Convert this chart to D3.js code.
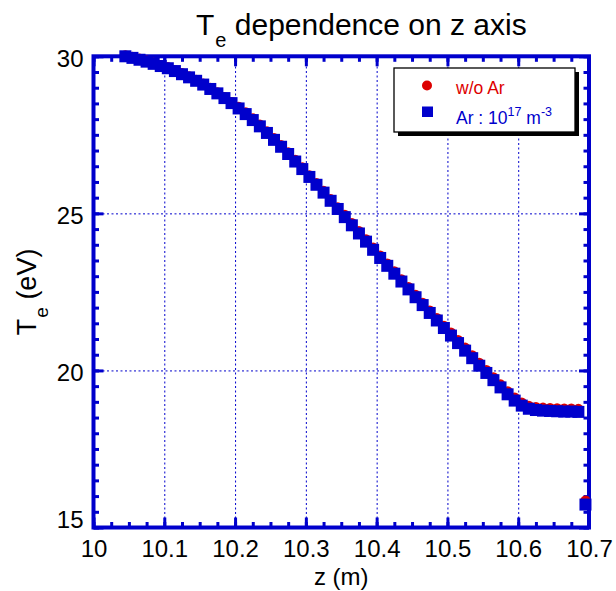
<!DOCTYPE html>
<html>
<head>
<meta charset="utf-8">
<script src="https://cdn.jsdelivr.net/npm/d3@7"></script>
<style>
  body { margin: 0; background: #fff; }
  svg { display: block; }
  text { font-family: "Liberation Sans", Arial, Helvetica, sans-serif; }
</style>
</head>
<body>
<svg id="chart" width="616" height="591"></svg>
<script>
// Axial positions of the samples (m)
const zPositions = [
  10.045, 10.055, 10.065, 10.075, 10.085, 10.095, 10.105, 10.115, 10.125, 10.135,
  10.145, 10.155, 10.165, 10.175, 10.185, 10.195, 10.205, 10.215, 10.225, 10.235,
  10.245, 10.255, 10.265, 10.275, 10.285, 10.295, 10.305, 10.315, 10.325, 10.335,
  10.345, 10.355, 10.365, 10.375, 10.385, 10.395, 10.405, 10.415, 10.425, 10.435,
  10.445, 10.455, 10.465, 10.475, 10.485, 10.495, 10.505, 10.515, 10.525, 10.535,
  10.545, 10.555, 10.565, 10.575, 10.585, 10.595, 10.605, 10.615, 10.625, 10.635,
  10.645, 10.655, 10.665, 10.675, 10.685, 10.695
];

// Electron temperature without argon (eV)
const teNoArgon = [
  30.03, 29.98, 29.92, 29.86, 29.79, 29.72, 29.65, 29.56, 29.46, 29.36,
  29.25, 29.13, 28.99, 28.85, 28.70, 28.54, 28.39, 28.21, 28.02, 27.82,
  27.61, 27.39, 27.17, 26.94, 26.70, 26.46, 26.21, 25.96, 25.71, 25.45,
  25.19, 24.95, 24.69, 24.43, 24.17, 23.91, 23.65, 23.40, 23.15, 22.90,
  22.65, 22.40, 22.15, 21.90, 21.66, 21.42, 21.20, 20.96, 20.72, 20.48,
  20.24, 20.01, 19.78, 19.55, 19.33, 19.13, 18.97, 18.87, 18.83, 18.81,
  18.80, 18.79, 18.78, 18.78, 18.77, 15.85
];

// Electron temperature with argon density 1e17 m^-3 (eV)
const teArgon = [
  30.00, 29.95, 29.89, 29.83, 29.76, 29.69, 29.62, 29.53, 29.43, 29.33,
  29.22, 29.10, 28.96, 28.82, 28.67, 28.51, 28.34, 28.16, 27.97, 27.77,
  27.56, 27.34, 27.12, 26.89, 26.65, 26.41, 26.16, 25.91, 25.66, 25.40,
  25.14, 24.88, 24.62, 24.36, 24.10, 23.84, 23.58, 23.33, 23.08, 22.83,
  22.58, 22.33, 22.08, 21.83, 21.59, 21.35, 21.11, 20.87, 20.63, 20.39,
  20.15, 19.92, 19.69, 19.46, 19.24, 19.04, 18.88, 18.78, 18.74, 18.72,
  18.71, 18.70, 18.69, 18.69, 18.68, 15.73
];

const xTicks = [10, 10.1, 10.2, 10.3, 10.4, 10.5, 10.6, 10.7];
const xTickLabels = ["10", "10.1", "10.2", "10.3", "10.4", "10.5", "10.6", "10.7"];
const yTicks = [15, 20, 25, 30];
const yTickLabels = ["15", "20", "25", "30"];

const BLUE = "#0000cc";
const RED = "#dd0000";

const svg = d3.select("#chart");
const pLeft = 93.5, pRight = 589, pTop = 56.3, pBottom = 527.5;

const x = d3.scaleLinear().domain([10, 10.7]).range([pLeft, pRight]);
const y = d3.scaleLinear().domain([15, 30]).range([pBottom, pTop]);

const xMinor = d3.range(0, 29).map(i => 10 + i * 0.025);
const yMinor = d3.range(0, 31).map(i => 15 + i * 0.5);

// dotted grid at the inner major ticks
const grid = svg.append("g").attr("class", "grid");
grid.append("g")
  .attr("transform", `translate(0,${pBottom})`)
  .call(d3.axisBottom(x).tickValues(xTicks.slice(1, -1)).tickSize(-(pBottom - pTop)).tickFormat(""))
  .call(g => g.select(".domain").remove());
grid.append("g")
  .attr("transform", `translate(${pLeft},0)`)
  .call(d3.axisLeft(y).tickValues(yTicks.slice(1, -1)).tickSize(-(pRight - pLeft)).tickFormat(""))
  .call(g => g.select(".domain").remove());
grid.selectAll("line")
  .attr("stroke", BLUE).attr("stroke-width", 1).attr("stroke-dasharray", "2,2.5");

// inward ticks on all four sides
function tickAxis(axisFn, scale, values, size, transform, fmt, pad) {
  const g = svg.append("g").attr("transform", transform)
    .call(axisFn(scale).tickValues(values).tickSize(-size).tickSizeOuter(0)
      .tickPadding(pad || 3).tickFormat(fmt || ""));
  g.select(".domain").remove();
  g.selectAll("line").attr("stroke", BLUE).attr("stroke-width", 3);
  return g;
}
tickAxis(d3.axisBottom, x, xMinor, 5.5, `translate(0,${pBottom})`);
tickAxis(d3.axisTop, x, xMinor, 5.5, `translate(0,${pTop})`);
tickAxis(d3.axisLeft, y, yMinor, 5.5, `translate(${pLeft},0)`);
tickAxis(d3.axisRight, y, yMinor, 5.5, `translate(${pRight},0)`);
tickAxis(d3.axisTop, x, xTicks, 10, `translate(0,${pTop})`);
tickAxis(d3.axisRight, y, yTicks, 10, `translate(${pRight},0)`);

const xAxis = tickAxis(d3.axisBottom, x, xTicks, 10, `translate(0,${pBottom})`,
  (d, i) => xTickLabels[i], 12);
xAxis.selectAll("text").attr("fill", "#000").attr("font-size", 24)
  .attr("font-family", "Liberation Sans, Arial, sans-serif");

const yAxis = tickAxis(d3.axisLeft, y, yTicks, 10, `translate(${pLeft},0)`,
  (d, i) => yTickLabels[i], 10);
yAxis.selectAll("text").attr("fill", "#000").attr("font-size", 24)
  .attr("font-family", "Liberation Sans, Arial, sans-serif")
  .attr("dy", d => d === 15 ? "-0.02em" : "0.42em");

// frame
svg.append("rect")
  .attr("x", pLeft).attr("y", pTop)
  .attr("width", pRight - pLeft).attr("height", pBottom - pTop)
  .attr("fill", "none").attr("stroke", BLUE).attr("stroke-width", 4);

// data: w/o Ar (red circles) underneath, Ar (blue squares) on top
svg.append("g").selectAll("circle")
  .data(zPositions.map((z, i) => [z, teNoArgon[i]]))
  .join("circle")
  .attr("cx", d => x(d[0])).attr("cy", d => y(d[1])).attr("r", 5.2)
  .attr("fill", RED);

const sq = 12;
svg.append("g").selectAll("rect")
  .data(zPositions.map((z, i) => [z, teArgon[i]]))
  .join("rect")
  .attr("x", d => x(d[0]) - sq / 2).attr("y", d => y(d[1]) - sq / 2)
  .attr("width", sq).attr("height", sq)
  .attr("fill", BLUE);

// title
const title = svg.append("text").attr("x", 196).attr("y", 35).attr("font-size", 30).attr("fill", "#000");
title.append("tspan").text("T");
title.append("tspan").attr("dx", 1).attr("dy", 12).attr("font-size", 20).text("e");
title.append("tspan").attr("dy", -12).text(" dependence on z axis");

// x label
svg.append("text").attr("x", (pLeft + pRight) / 2).attr("y", 585)
  .attr("text-anchor", "middle").attr("font-size", 24).attr("fill", "#000").text("z (m)");

// y label
const yl = svg.append("text")
  .attr("transform", `translate(36,${(pTop + pBottom) / 2}) rotate(-90)`)
  .attr("text-anchor", "middle").attr("font-size", 27).attr("fill", "#000");
yl.append("tspan").text("T");
yl.append("tspan").attr("dx", 1).attr("dy", 12).attr("font-size", 19).text("e");
yl.append("tspan").attr("dy", -12).text(" (eV)");

// legend
const lg = svg.append("g");
lg.append("rect").attr("x", 398).attr("y", 72).attr("width", 181).attr("height", 64).attr("fill", "#000");
lg.append("rect").attr("x", 394).attr("y", 68).attr("width", 181).attr("height", 64)
  .attr("fill", "#fff").attr("stroke", "#000").attr("stroke-width", 1.3);
lg.append("circle").attr("cx", 427).attr("cy", 85.5).attr("r", 5).attr("fill", RED);
lg.append("rect").attr("x", 422).attr("y", 106.5).attr("width", 11).attr("height", 10.5).attr("fill", BLUE);
lg.append("text").attr("x", 456).attr("y", 93.5).attr("font-size", 17.5).attr("fill", RED).text("w/o Ar");
const lt = lg.append("text").attr("x", 456).attr("y", 123.5).attr("font-size", 17.5).attr("fill", BLUE);
lt.append("tspan").text("Ar : 10");
lt.append("tspan").attr("dy", -8).attr("font-size", 12.5).text("17");
lt.append("tspan").attr("dy", 8).text(" m");
lt.append("tspan").attr("dy", -8).attr("font-size", 12.5).text("-3");
</script>
</body>
</html>
